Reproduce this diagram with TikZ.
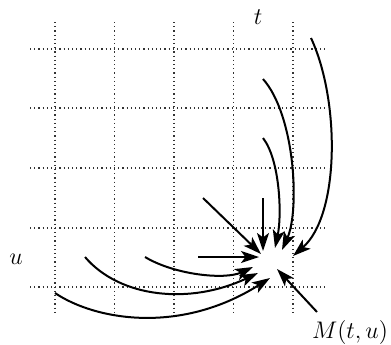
\documentclass[tikz,border=0pt]{standalone}
\usepackage{amsmath}
\usepackage{tikz}
\usetikzlibrary{arrows.meta}
\tikzset{
  gridline/.style={line width=0.6pt, dash pattern=on 0.6pt off 1.5pt, black!80},
  flow/.style={line width=1pt, -{Stealth[length=9pt, width=6pt, inset=2.2pt]}},
  lbl/.style={font=\large, inner sep=0pt},
}

\begin{document}
\begin{tikzpicture}[x=0.5pt, y=-0.5pt]
  \useasboundingbox (0,0) rectangle (391,344);

  % Grid
  \foreach \gx in {55, 114.5, 174, 233.5, 293}
    \draw[gridline] (\gx, 22) -- (\gx, 315);
  \foreach \gy in {49, 108, 168, 228, 287}
    \draw[gridline] (30, \gy) -- (325, \gy);

  % Labels
  \node[lbl] (tlab) at (258, 17)  {$t$};
  \node[lbl] (ulab) at (16, 259)  {$u$};
  \node[lbl] (Mlab) at (350, 332) {$M(t,u)$};

  % Start points
  \coordinate (s1)  at (311, 38);
  \coordinate (s2)  at (263, 79);
  \coordinate (s3)  at (263, 138);
  \coordinate (s4)  at (263, 198);
  \coordinate (s5)  at (203, 198);
  \coordinate (s6)  at (198, 257);
  \coordinate (s7)  at (145, 257);
  \coordinate (s8)  at (85, 257);
  \coordinate (s9)  at (55, 293);
  \coordinate (s10) at (317, 312);

  % Tips around M(t,u)
  \coordinate (e1)  at (293, 256);
  \coordinate (e2)  at (282, 250);
  \coordinate (e3)  at (275, 248);
  \coordinate (e4)  at (263, 251);
  \coordinate (e5)  at (261, 254);
  \coordinate (e6)  at (259, 257);
  \coordinate (e7)  at (253, 267);
  \coordinate (e8)  at (258, 273);
  \coordinate (e9)  at (270, 278);
  \coordinate (e10) at (277, 269);

  % Arrows coming down from t
  \draw[flow] (s1) .. controls (340, 100) and (340, 215) .. (e1);
  \draw[flow] (s2) .. controls (295, 115) and (300, 210) .. (e2);
  \draw[flow] (s3) .. controls (280, 160) and (282, 215) .. (e3);
  \draw[flow] (s4) -- (e4);
  \draw[flow] (s5) -- (e5);

  % Arrows coming in from u
  \draw[flow] (s6) -- (e6);
  \draw[flow] (s7) .. controls (175, 275) and (225, 280) .. (e7);
  \draw[flow] (s8) .. controls (120, 298) and (190, 305) .. (e8);
  \draw[flow] (s9) .. controls (95, 320) and (180, 335) .. (e9);

  % Arrow from below right
  \draw[flow] (s10) -- (e10);
\end{tikzpicture}
\end{document}
